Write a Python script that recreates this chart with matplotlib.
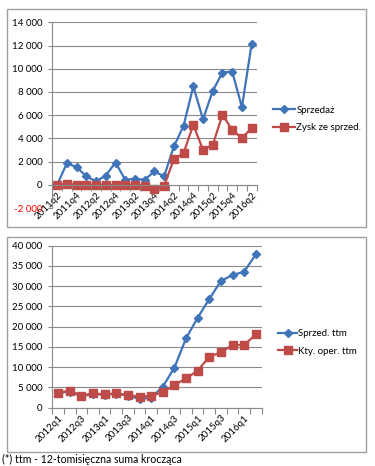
import matplotlib
matplotlib.use("Agg")
import matplotlib.pyplot as plt
from matplotlib.patches import Rectangle
from matplotlib.ticker import FuncFormatter

plt.rcParams['font.family'] = ['Lato', 'DejaVu Sans']

# top chart: quarterly values
q_top = ['2011q2', '2011q3', '2011q4', '2012q1', '2012q2', '2012q3', '2012q4',
         '2013q1', '2013q2', '2013q3', '2013q4', '2014q1', '2014q2', '2014q3',
         '2014q4', '2015q1', '2015q2', '2015q3', '2015q4', '2016q1', '2016q2']
sprzedaz = [0, 1860, 1520, 720, 290, 800, 1920, 430, 520, 430, 1150, 720,
            3300, 5080, 8480, 5650, 8090, 9670, 9760, 6690, 12140]
zysk = [0, 80, 0, 0, 0, 0, 0, 0, 0, -90, -370, -90,
        2200, 2730, 5160, 3010, 3440, 6030, 4730, 4020, 4880]

# bottom chart: trailing twelve months
q_bot = ['2012q1', '2012q2', '2012q3', '2012q4', '2013q1', '2013q2', '2013q3',
         '2013q4', '2014q1', '2014q2', '2014q3', '2014q4', '2015q1', '2015q2',
         '2015q3', '2015q4', '2016q1', '2016q2']
sprzed_ttm = [3600, 4000, 2800, 3400, 3200, 3400, 3000, 2140, 2470, 5190,
              9880, 17120, 22220, 26830, 31280, 32760, 33580, 37860]
kty_ttm = [3700, 4200, 2960, 3540, 3290, 3540, 3130, 2720, 2960, 3790,
           5600, 7240, 9140, 12590, 13660, 15470, 15470, 18110]

BLUE = '#3f74b8'
RED = '#be4b48'
GRID = '#8a8a8a'
FS = 7.0

W, H = 375, 466
fig = plt.figure(figsize=(W / 100, H / 100), dpi=100)

def box(x0, y0, x1, y1):
    fig.patches.append(Rectangle((x0 / W, 1 - y1 / H), (x1 - x0) / W, (y1 - y0) / H,
                                 transform=fig.transFigure, fill=False,
                                 edgecolor='#a0a0a0', linewidth=1.0))

def pos(x0, y0, x1, y1):
    return [x0 / W, 1 - y1 / H, (x1 - x0) / W, (y1 - y0) / H]

def thousands(v, _):
    s = f"{abs(int(v)):,}".replace(',', ' ')
    return ('-' + s) if v < 0 else s

def style(ax, n):
    for s in ['top', 'right']:
        ax.spines[s].set_visible(False)
    ax.spines['left'].set_color(GRID)
    ax.spines['bottom'].set_color(GRID)
    ax.spines['left'].set_linewidth(0.8)
    ax.spines['bottom'].set_linewidth(0.8)
    ax.grid(axis='y', color=GRID, linewidth=0.8)
    ax.set_axisbelow(True)
    ax.yaxis.set_major_formatter(FuncFormatter(thousands))
    ax.tick_params(axis='y', length=3, color=GRID, labelsize=FS, pad=4)
    ax.set_xlim(-0.5, n - 0.5)
    ax.set_xticks([i - 0.5 for i in range(n + 1)])
    ax.set_xticklabels([])
    ax.tick_params(axis='x', which='major', length=4, color=GRID, direction='out')

def xlabels(ax, labels):
    ax.set_xticks(range(0, len(labels), 2), minor=True)
    ax.set_xticklabels(labels[::2], minor=True, rotation=45, ha='right',
                       va='top', rotation_mode='anchor', fontsize=FS)
    ax.tick_params(axis='x', which='minor', length=0, pad=4)

# ---- top chart
box(7, 9, 366, 227)
ax1 = fig.add_axes(pos(52.3, 22.3, 256.5, 208))
style(ax1, len(q_top))
ax1.spines['bottom'].set_position(('data', 0))
ax1.set_ylim(-2000, 14000)
ax1.set_yticks(range(-2000, 14001, 2000))
x = range(len(q_top))
l1, = ax1.plot(x, sprzedaz, color=BLUE, lw=1.6, marker='D', ms=4, label='Sprzedaż')
l2, = ax1.plot(x, zysk, color=RED, lw=1.6, marker='s', ms=6, label='Zysk ze sprzed.')
xlabels(ax1, q_top)
for t in ax1.get_yticklabels():
    if t.get_text().startswith('-'):
        t.set_color('red')
fig.legend(handles=[l1, l2], loc='center left', bbox_to_anchor=(273 / W, 1 - 119 / H),
           frameon=False, fontsize=FS, borderpad=0, borderaxespad=0,
           handlelength=2.3, handletextpad=0.1, labelspacing=0.85)

# ---- bottom chart
box(7, 236.7, 366, 451.7)
ax2 = fig.add_axes(pos(52.3, 245.7, 261.6, 407.7))
style(ax2, len(q_bot))
ax2.set_ylim(0, 40000)
ax2.set_yticks(range(0, 40001, 5000))
x = range(len(q_bot))
l3, = ax2.plot(x, sprzed_ttm, color=BLUE, lw=1.6, marker='D', ms=4, label='Sprzed. ttm')
l4, = ax2.plot(x, kty_ttm, color=RED, lw=1.6, marker='s', ms=6, label='Kty. oper. ttm')
xlabels(ax2, q_bot)
fig.legend(handles=[l3, l4], loc='center left', bbox_to_anchor=(278 / W, 1 - 342.5 / H),
           frameon=False, fontsize=FS, borderpad=0, borderaxespad=0,
           handlelength=2.0, handletextpad=0.1, labelspacing=0.85)

fig.text(2 / W, 1 - 459 / H, '(*) ttm - 12-tomisięczna suma krocząca',
         fontsize=7.6, va='center', ha='left')

fig.savefig('out.png', dpi=100)
